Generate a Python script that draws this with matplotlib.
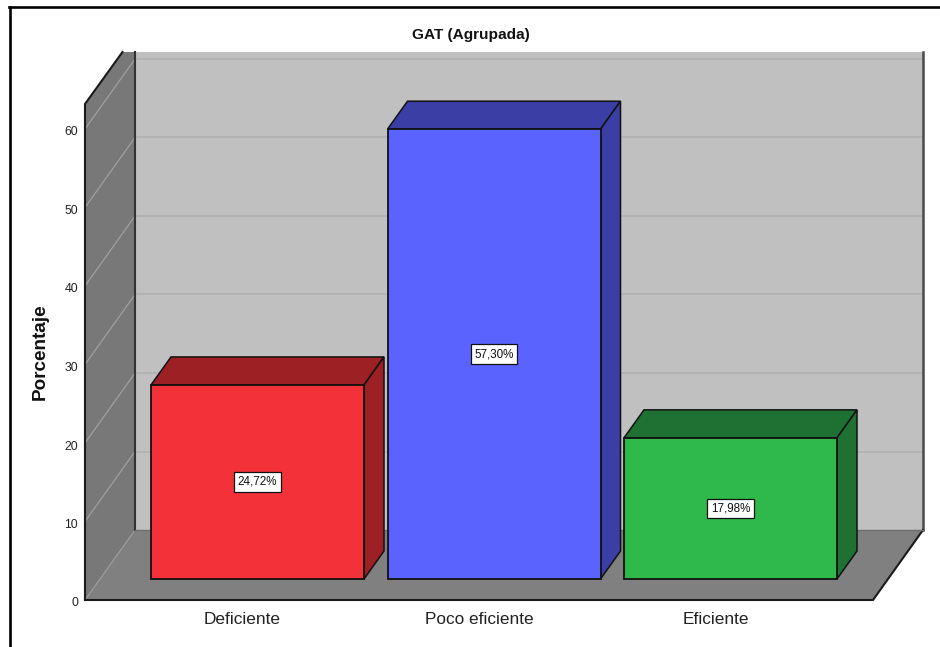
import matplotlib
matplotlib.use("Agg")
import matplotlib.pyplot as plt
from matplotlib.patches import Polygon
from matplotlib.lines import Line2D
from matplotlib.transforms import ScaledTranslation

categories = ["Deficiente", "Poco eficiente", "Eficiente"]
values = [24.72, 57.30, 17.98]
value_labels = ["24,72%", "57,30%", "17,98%"]
y_ticks = [0, 10, 20, 30, 40, 50, 60]
front_colors = ["#f23238", "#5b63ff", "#2fb94b"]
dark_colors = ["#9c2024", "#3b3fa5", "#1e7133"]

W, H = 940, 647
plt.rcParams["font.family"] = ["Liberation Sans", "DejaVu Sans"]
fig = plt.figure(figsize=(W / 100, H / 100), dpi=100, facecolor="white")

# Pixel geometry of the plot box
L, R, B, T = 85, 923, 600, 52
ax = fig.add_axes([L / W, 1 - B / H, (R - L) / W, (B - T) / H])
PX_X = 236.5          # pixels per category
PX_Y = 7.85           # pixels per percent
x0 = -(257.5 - L) / PX_X
ax.set_xlim(x0, x0 + (R - L) / PX_X)
ax.set_ylim(0, (B - T) / PX_Y)
ax.set_facecolor("none")
for s in ax.spines.values():
    s.set_visible(False)

DX = 50 / PX_X        # full depth of the box, data units
DY = 70 / PX_Y
BAR_DX = 20 / PX_X    # depth of one bar
BAR_DY = 28 / PX_Y
OFF_X = 15 / PX_X     # bar's depth offset from the front of the floor
OFF_Y = 21 / PX_Y
BAR_W = 213 / PX_X
x_end = x0 + (R - L) / PX_X - DX
y_top = (B - T) / PX_Y
left_y_top = (B - 104) / PX_Y
x_cut = x0 + 37.5 / PX_X
EDGE = "#1a1a1a"

# Back wall
ax.add_patch(Polygon([(x0 + DX, DY), (x_end + DX, DY), (x_end + DX, y_top), (x0 + DX, y_top)],
                     closed=True, fc="#c0c0c0", ec="none", zorder=1))
# Left wall
ax.add_patch(Polygon([(x0, 0), (x0 + DX, DY), (x0 + DX, y_top), (x_cut, y_top), (x0, left_y_top)],
                     closed=True, fc="#787878", ec="none", zorder=1))
# Floor
ax.add_patch(Polygon([(x0, 0), (x_end, 0), (x_end + DX, DY), (x0 + DX, DY)],
                     closed=True, fc="#808080", ec="none", zorder=1))

# Grid lines
for v in y_ticks[1:]:
    ax.plot([x0 + DX, x_end + DX], [v + DY, v + DY], color="#b0b0b0", lw=1.1, zorder=2, clip_on=False)
    ax.plot([x0, x0 + DX], [v, v + DY], color="#a0a0a0", lw=0.9, zorder=2, clip_on=False)
ax.plot([x0, x0 + DX], [0, DY], color="#a0a0a0", lw=0.7, zorder=2)

# Box outlines
ax.plot([x0, x0, x_cut], [0, left_y_top, y_top], color=EDGE, lw=1.5, zorder=3, clip_on=False)
ax.plot([x0 + DX, x0 + DX], [DY, y_top], color="#333333", lw=1.5, zorder=3, clip_on=False)
ax.plot([x_end + DX, x_end + DX], [DY, y_top], color="#4a4a4a", lw=1.8, zorder=3, clip_on=False)
ax.plot([x0, x_end, x_end + DX], [0, 0, DY], color=EDGE, lw=1.5, zorder=3, clip_on=False)
ax.plot([x0 + DX, x_end + DX], [DY, DY], color="#6e6e6e", lw=1.0, zorder=3, clip_on=False)

# Bars
for i, v in enumerate(values):
    xl = i - BAR_W / 2
    xr = i + BAR_W / 2
    y0 = OFF_Y
    y1 = OFF_Y + v
    ax.add_patch(Polygon([(xl, y1), (xr, y1), (xr + BAR_DX, y1 + BAR_DY), (xl + BAR_DX, y1 + BAR_DY)],
                         closed=True, fc=dark_colors[i], ec="#111111", lw=1.1, zorder=4, clip_on=False))
    ax.add_patch(Polygon([(xr, y0), (xr + BAR_DX, y0 + BAR_DY), (xr + BAR_DX, y1 + BAR_DY), (xr, y1)],
                         closed=True, fc=dark_colors[i], ec="#111111", lw=1.1, zorder=4, clip_on=False))
    ax.bar(i, v, BAR_W, bottom=y0, color=front_colors[i], edgecolor="#111111", lw=1.3, zorder=5)
    ax.text(i, y0 + v / 2, value_labels[i], ha="center", va="center", fontsize=8.4, color="#111111", zorder=6,
            bbox=dict(boxstyle="square,pad=0.32", fc="white", ec="#111111", lw=0.9))

# Category labels sit at the front plane, left of the bars
ax.set_xticks([i - OFF_X for i in range(len(categories))])
ax.set_xticklabels(categories, fontsize=12.4, color="#222222")
ax.set_yticks(y_ticks)
ax.set_yticklabels([str(t) for t in y_ticks], fontsize=8.8, color="#222222")
ax.tick_params(axis="x", length=0, pad=9)
ax.tick_params(axis="y", length=0, pad=5)
shift = ScaledTranslation(0, -2 / 100, fig.dpi_scale_trans)
for lab in ax.get_yticklabels():
    lab.set_transform(lab.get_transform() + shift)

fig.text(471 / W, 1 - 35 / H, "GAT (Agrupada)", ha="center", va="center", fontsize=11.1,
         fontweight="bold", color="#111111")
fig.text(40 / W, 1 - 352 / H, "Porcentaje", ha="center", va="center", rotation=90, fontsize=13.6,
         fontweight="bold", color="#111111")

# Image frame: left and top edges only
fig.add_artist(Line2D([9.5 / W, 9.5 / W], [0, 1 - 6.5 / H], color="black", lw=1.9, transform=fig.transFigure))
fig.add_artist(Line2D([8.5 / W, 1], [1 - 6.5 / H, 1 - 6.5 / H], color="black", lw=1.9, transform=fig.transFigure))

fig.savefig("out.png", dpi=100, facecolor="white")
